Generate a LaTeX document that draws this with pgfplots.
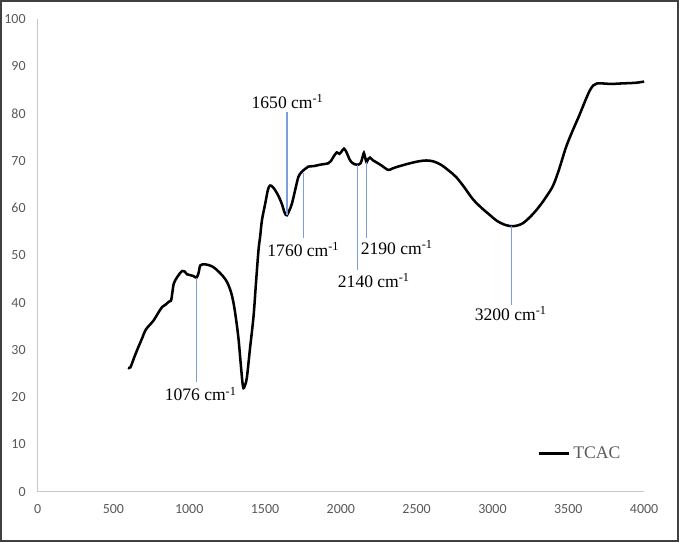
\documentclass[border=0pt]{standalone}
\usepackage{pgfplots}
\pgfplotsset{compat=1.18}
\usepackage{fontspec}
\setmainfont{Liberation Serif}
\newfontfamily\calibri{Carlito}
\definecolor{annot}{RGB}{125,158,216}
\definecolor{tickgray}{RGB}{89,89,89}
\definecolor{axgray}{RGB}{200,200,200}
\definecolor{frame}{RGB}{64,64,64}

\begin{document}
\begin{tikzpicture}
\begin{axis}[
    scale only axis,
    width=456.2pt, height=355.3pt,
    xmin=0, xmax=4000, ymin=0, ymax=100,
    axis x line=bottom, axis y line=left,
    axis line style={draw=axgray, line width=1pt, -},
    xtick={0,500,...,4000}, ytick={0,10,...,100},
    major tick length=0pt,
    tick label style={font=\calibri\fontsize{10.5}{12}\selectfont, text=tickgray, inner sep=0pt},
    /pgf/number format/assume math mode=true,
    scaled x ticks=false,
    xticklabel style={/pgf/number format/1000 sep={}},
    xticklabel shift=9.5pt,
    yticklabel shift=8.8pt,
    clip=false,
    legend style={at={(axis cs:3300,8.1)}, anchor=west, draw=none, fill=none,
        inner sep=0pt, font=\fontsize{13.3}{15}\selectfont, text=tickgray},
    legend image code/.code={\draw[#1] (0pt,0pt) -- (22.5pt,0pt);},
]
\addplot[black, line width=1.9pt, smooth, tension=0.55] coordinates {
(596,26.2) (612,26.3) (635,28.2) (657,30.0) (690,32.5) (712,34.2) (740,35.3)
(767,36.3) (795,37.8) (822,39.1) (845,39.6) (866,40.2) (880,40.4) (888,41.9)
(899,44.1) (925,45.6) (953,46.7) (970,46.6) (986,46.0) (1010,45.8) (1030,45.6)
(1048,45.3) (1062,46.3) (1074,47.9) (1107,48.1) (1150,47.7) (1183,46.9)
(1220,45.7) (1249,44.4) (1275,42.3) (1293,39.8) (1310,36.3) (1326,32.1)
(1340,27.0) (1355,22.2) (1368,22.5) (1381,24.3) (1400,30.0) (1424,37.0)
(1440,44.0) (1457,51.1) (1468,54.0) (1480,57.5) (1501,60.9) (1520,64.0)
(1534,64.8) (1550,64.5) (1567,63.8) (1590,62.5) (1611,60.9) (1630,59.0)
(1644,58.5) (1660,59.5) (1677,60.9) (1700,64.0) (1720,66.6) (1740,67.6)
(1764,68.3) (1786,68.8) (1820,68.9) (1863,69.2) (1917,69.5) (1935,70.0)
(1950,70.8) (1973,71.8) (1990,71.5) (2005,72.0) (2021,72.6) (2038,71.8)
(2055,70.5) (2071,69.7) (2090,69.3) (2108,69.2) (2130,69.5) (2145,71.0)
(2152,71.7) (2162,70.5) (2170,69.7) (2180,70.4) (2192,70.7) (2213,70.1)
(2235,69.7) (2270,69.0) (2312,68.1) (2340,68.4) (2367,68.7) (2410,69.1)
(2455,69.5) (2510,69.9) (2564,70.1) (2610,69.9) (2660,69.2)
(2710,68.0) (2760,66.6) (2810,64.6) (2871,61.9) (2930,60.0) (2981,58.6)
(3030,57.3) (3080,56.5) (3123,56.2) (3160,56.3) (3200,56.8) (3250,58.2)
(3300,60.0) (3350,62.2) (3400,64.8) (3440,68.3) (3485,72.9) (3530,76.5)
(3572,79.6) (3610,82.6) (3640,84.8) (3665,86.0) (3690,86.4) (3730,86.4)
(3780,86.3) (3850,86.4) (3923,86.5) (3960,86.6) (4000,86.8)
};
\addlegendentry{TCAC}
% annotation lines
\addplot[annot, line width=1pt, forget plot] coordinates {(1048,45.3) (1048,23.1)};
\addplot[annot, line width=1pt, forget plot] coordinates {(1644,80.4) (1644,58.5)};
\addplot[annot, line width=1pt, forget plot] coordinates {(1753,67.4) (1753,53.7)};
\addplot[annot, line width=1pt, forget plot] coordinates {(2108,69.2) (2108,46.9)};
\addplot[annot, line width=1pt, forget plot] coordinates {(2170,69.7) (2170,53.6)};
\addplot[annot, line width=1pt, forget plot] coordinates {(3125,56.2) (3125,39.6)};
\begin{scope}[every node/.style={font=\fontsize{13.2}{15}\selectfont, anchor=base, inner sep=0pt}]
\node at (axis cs:1076,19.2) {1076 cm\textsuperscript{-1}};
\node at (axis cs:1649,81.2) {1650 cm\textsuperscript{-1}};
\node at (axis cs:1753,49.8) {1760 cm\textsuperscript{-1}};
\node at (axis cs:2218,43.3) {2140 cm\textsuperscript{-1}};
\node at (axis cs:2369,50.2) {2190 cm\textsuperscript{-1}};
\node at (axis cs:3121,36.2) {3200 cm\textsuperscript{-1}};
\end{scope}
\end{axis}
\draw[frame, line width=1.5pt] ([xshift=-27.5pt,yshift=-37.5pt]current axis.south west)
    rectangle ([xshift=25.5pt,yshift=13.7pt]current axis.north east);
\end{tikzpicture}
\end{document}
